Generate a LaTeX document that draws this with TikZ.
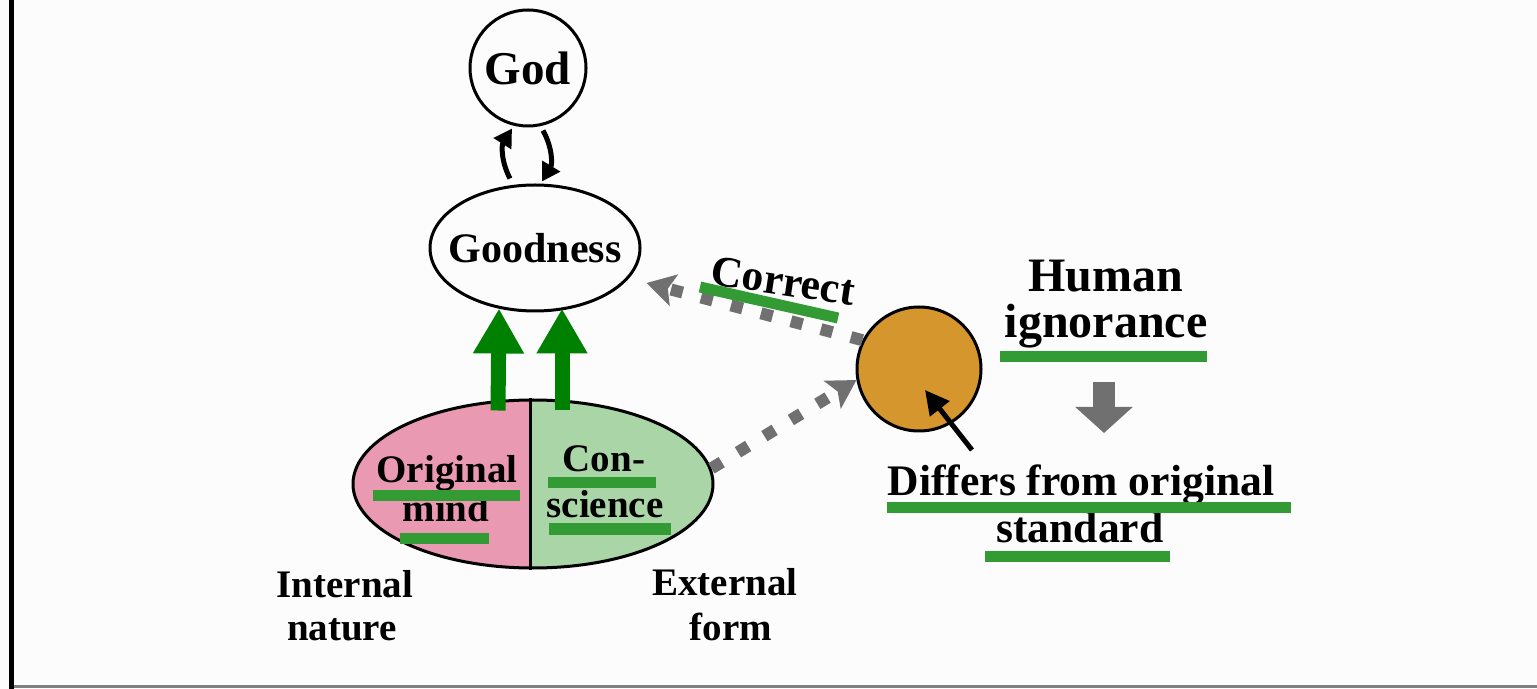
\documentclass[tikz,border=0pt]{standalone}
\usepackage{fontspec}
\setmainfont{Liberation Serif}
\usetikzlibrary{calc}
\usetikzlibrary{arrows.meta}
\usetikzlibrary{shapes.geometric}

\definecolor{paper}{RGB}{252,252,252}
\definecolor{mindpink}{RGB}{234,153,178}
\definecolor{conspale}{RGB}{170,213,166}
\definecolor{hlgreen}{RGB}{51,155,51}
\definecolor{upgreen}{RGB}{0,128,0}
\definecolor{dotbrown}{RGB}{214,150,46}
\definecolor{dotgrey}{RGB}{112,112,112}

\begin{document}
\begin{tikzpicture}[x=0.5pt, y=-0.5pt,
        txt/.style={font=\bfseries\fontsize{19.5}{20}\selectfont, inner sep=0pt, anchor=base},
        mid/.style={txt, font=\bfseries\fontsize{21.8}{24}\selectfont},
        big/.style={txt, font=\bfseries\fontsize{24}{26}\selectfont},
        hl/.style={draw=hlgreen, line width=5.5pt},
        dots/.style={draw=dotgrey, line width=6pt, dash pattern=on 6pt off 9.5pt,
            -{Stealth[length=14pt, width=16pt, inset=3pt]}},
        up/.style={draw=upgreen, line width=7.5pt, -{Triangle[length=22.5pt, width=24pt]}},
        swap/.style={line width=2.5pt, -{Triangle[length=9pt, width=10pt]}, bend left=30},
        ptr/.style={line width=2.5pt, -{Triangle[length=12pt, width=12pt]}}]
    \useasboundingbox (0,0) rectangle (1537,689);
    \fill[paper] (0,0) rectangle (1537,689);
    \fill[black] (9,0) rectangle (14,689);
    \fill[gray] (14,685) rectangle (1537,688);

    \node[circle, draw, line width=1.5pt, minimum size=58pt, inner sep=0pt] (god) at (528,68) {};
    \node[font=\bfseries\fontsize{23.5}{24}\selectfont, inner sep=0pt] (godtxt) at (god) {God};
    \node[ellipse, draw, line width=1.5pt, minimum width=105pt, minimum height=63pt, inner sep=0pt] (good) at (535,248) {};
    \node[font=\bfseries\fontsize{21}{22}\selectfont, inner sep=0pt] (goodtxt) at (good) {Goodness};
    \draw[swap] ($(good.north)+(-25,-5)$) to ($(god.south)+(-16,1)$);
    \draw[swap] ($(god.south)+(15,3)$) to ($(good.north)+(7,-2)$);

    \node[ellipse, draw, line width=1.5pt, minimum width=180pt, minimum height=84pt, inner sep=0pt,
        path picture={
            \fill[mindpink] (path picture bounding box.north west) rectangle ([xshift=-1pt]path picture bounding box.south);
            \fill[conspale] ([xshift=-1pt]path picture bounding box.north) rectangle (path picture bounding box.south east);
        }] (mind) at (533,484) {};
    \draw[line width=1.5pt] ([xshift=-1.5pt]mind.north) -- ([xshift=-1.5pt]mind.south);

    \draw[up] ($(mind.north)+(-35,12)$) -- ($(good.south)+(-36,-4)$);
    \draw[up] ($(mind.north)+(29,12)$) -- ($(good.south)+(27,-4)$);

    \node[txt] (orig) at (447,482) {Original};
    \node[txt] (mindtxt) at (446,522) {mind};
    \node[txt] (con) at (604,472) {Con-};
    \node[txt] (sci) at (605,517) {science};
    \node[txt] (intl) at (345,597) {Internal};
    \node[txt] (natr) at (342,640) {nature};
    \node[txt] (extl) at (725,595) {External};
    \node[txt] (form) at (731,640) {form};

    \node[circle, draw, line width=1.5pt, fill=dotbrown, minimum size=62pt, inner sep=0pt] (dot) at (919,369) {};
    \draw[dots] (dot.153) -- ($(good.east)+(5,35)$);
    \draw[dots] (mind.5) -- (dot.190);

    \node[mid, rotate=-8.5] (corr) at (781,295) {Correct};

    \node[big] (hum) at (1106,292) {Human};
    \node[big] (ign) at (1106,338) {ignorance};
    \node[mid] (diff) at (1081,495) {Differs from original};
    \node[mid] (std) at (1080,543) {standard};

    \draw[line width=11pt, dotgrey, -{Triangle[length=13pt, width=28pt]}]
        ($(ign.base)+(-2,44)$) -- ($(diff.base)+(23,-62)$);
    \draw[ptr] ($(diff.base)+(-109,-45)$) -- ($(dot.center)+(6,21)$);

    % green marks under the key words
    \draw[hl] (373,496) -- (520,496);
    \draw[hl] (400,538) -- (489,538);
    \draw[hl] (548,483) -- (656,483);
    \draw[hl] (549,529) -- (671,529);
    \draw[hl] (700,287) -- (838,318);
    \draw[hl] (1000,357) -- (1207,357);
    \draw[hl] (887,508) -- (1291,508);
    \draw[hl] (985,556) -- (1170,556);
\end{tikzpicture}
\end{document}
